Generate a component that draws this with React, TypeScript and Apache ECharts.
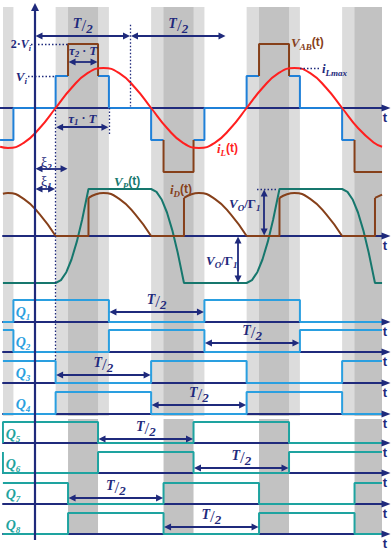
import React, { useEffect, useRef } from "react";
import * as echarts from "echarts";

type Pt = [number, number] | null;

// ===== data: time in switching periods T (t = 0 on the vertical axis) =====
// bridge voltage V_AB (units of V_i): blue part |v| <= V_i, brown part at 2·V_i
const vabBlue: Pt[] = [
  [-0.183, -1], [-0.113, -1], [-0.113, 0], [0.108, 0], [0.108, 1], [0.173, 1], null,
  [0.33, 1], [0.387, 1], [0.387, 0], [0.608, 0], [0.608, -1], [0.673, -1], null,
  [0.83, -1], [0.887, -1], [0.887, 0], [1.108, 0], [1.108, 1], [1.173, 1], null,
  [1.33, 1], [1.387, 1], [1.387, 0], [1.608, 0], [1.608, -1], [1.673, -1],
];
const vabBrown: Pt[] = [
  [0.173, 1], [0.173, 2], [0.33, 2], [0.33, 1], null,
  [0.673, -1], [0.673, -2], [0.83, -2], [0.83, -1], null,
  [1.173, 1], [1.173, 2], [1.33, 2], [1.33, 1], null,
  [1.673, -1], [1.673, -2], [1.817, -2],
];
// inductor current i_L (units of i_Lmax)
const iL: Pt[] = [
  [-0.183, -0.97], [-0.142, -1], [-0.059, -0.87], [0.025, -0.5], [0.108, 0], [0.191, 0.5],
  [0.275, 0.87], [0.358, 1], [0.441, 0.87], [0.525, 0.5], [0.608, 0], [0.691, -0.5],
  [0.775, -0.87], [0.858, -1], [0.941, -0.87], [1.025, -0.5], [1.108, 0], [1.191, 0.5],
  [1.275, 0.87], [1.358, 1], [1.441, 0.87], [1.525, 0.5], [1.608, 0], [1.691, -0.5],
  [1.775, -0.87], [1.817, -0.97],
];
// transformer voltage V_P (units of V_O/Γ1)
const vp: Pt[] = [
  [-0.168, -1], [0.108, -1], [0.136, -0.94], [0.164, -0.77], [0.191, -0.5], [0.219, -0.12], [0.247, 0.35], [0.28, 1],
  [0.608, 1], [0.636, 0.94], [0.664, 0.77], [0.691, 0.5], [0.719, 0.12], [0.747, -0.35], [0.78, -1],
  [1.108, -1], [1.136, -0.94], [1.164, -0.77], [1.191, -0.5], [1.219, -0.12], [1.247, 0.35], [1.28, 1],
  [1.608, 1], [1.636, 0.94], [1.664, 0.77], [1.691, 0.5], [1.719, 0.12], [1.747, -0.35], [1.78, -1],
  [1.817, -1],
];
// diode current i_D (same scale as V_P axis): arcs and the zero / step parts
const iDArcs: Pt[] = [
  [-0.168, 0.9], [-0.142, 0.915], [-0.059, 0.79], [0.025, 0.46], [0.108, 0], null,
  [0.28, 0.81], [0.358, 0.915], [0.441, 0.79], [0.525, 0.46], [0.608, 0], null,
  [0.78, 0.81], [0.858, 0.915], [0.941, 0.79], [1.025, 0.46], [1.108, 0], null,
  [1.28, 0.81], [1.358, 0.915], [1.441, 0.79], [1.525, 0.46], [1.608, 0], null,
  [1.78, 0.81], [1.817, 0.88],
];
const iDSteps: Pt[] = [
  [0.108, 0], [0.28, 0], [0.28, 0.81], null,
  [0.608, 0], [0.78, 0], [0.78, 0.81], null,
  [1.108, 0], [1.28, 0], [1.28, 0.81], null,
  [1.608, 0], [1.78, 0], [1.78, 0.81],
];
// gate signals: [time, state after that time]
const q1: [number, number][] = [[-0.168, 0], [-0.113, 1], [0.387, 0], [0.887, 1], [1.387, 0], [1.817, 0]];
const q2: [number, number][] = [[-0.168, 1], [-0.113, 0], [0.387, 1], [0.887, 0], [1.387, 1], [1.817, 1]];
const q3: [number, number][] = [[-0.168, 1], [0.108, 0], [0.608, 1], [1.108, 0], [1.608, 1], [1.817, 1]];
const q4: [number, number][] = [[-0.168, 0], [0.108, 1], [0.608, 0], [1.108, 1], [1.608, 0], [1.817, 0]];
const q5: [number, number][] = [[-0.168, 0], [-0.168, 1], [0.33, 0], [0.83, 1], [1.33, 0], [1.817, 0]];
const q6: [number, number][] = [[-0.168, 1], [-0.168, 0], [0.33, 1], [0.83, 0], [1.33, 1], [1.817, 1]];
const q7: [number, number][] = [[-0.168, 1], [0.173, 0], [0.673, 1], [1.173, 0], [1.673, 1], [1.817, 1]];
const q8: [number, number][] = [[-0.168, 0], [0.173, 1], [0.673, 0], [1.173, 1], [1.673, 0], [1.817, 0]];
const qStates = [q1, q2, q3, q4, q5, q6, q7, q8];
const qNames = ["1", "2", "3", "4", "5", "6", "7", "8"];
const qHalfSpans: [number, number][] = [
  [0.387, 0.887], [0.887, 1.387], [0.108, 0.608], [0.608, 1.108],
  [0.33, 0.83], [0.83, 1.33], [0.173, 0.673], [0.673, 1.173],
];
const topHalfSpans: [number, number][] = [[0, 0.5], [0.5, 1]];
const tau2Span: [number, number] = [0.173, 0.33];
const tau1Span: [number, number] = [0.108, 0.387];
const xi2Span: [number, number] = [0, 0.173];
const xi1Span: [number, number] = [0, 0.108];
const lightBands: [number, number][] = [[-0.392, -0.113], [0.108, 0.387], [0.608, 0.887], [1.108, 1.387], [1.608, 1.887]];
const darkBands: [number, number][] = [[-0.327, -0.17], [0.173, 0.33], [0.673, 0.83], [1.173, 1.33], [1.673, 1.83]];
const VI_LEVELS = [1, 2];
const ILMAX_IN_VI = 1.25;

// ===== layout & style =====
const SERIF = '"Liberation Serif", "DejaVu Serif", serif';
const SANS = '"Liberation Sans", "DejaVu Sans", sans-serif';
const NAVY = "#1f2a7c";
const VAB_BLUE = "#1f80d8";
const Q_BLUE = "#2a9fe0";
const Q_TEAL = "#1ea3a0";
const VP_TEAL = "#16776d";
const BROWN = "#86401a";
const RED = "#ff1f1f";
const LIGHT_GRAY = "#dcdcdc";
const DARK_GRAY = "#c2c2c2";

const W = 391;
const T0_PX = 35;
const PX_PER_T = 191;
const tAt = (px: number) => (px - T0_PX) / PX_PER_T;
const AXIS_END = 386;
const INSET = 4 / PX_PER_T;

const Q_ROWS = [
  { axisY: 322, h: 22, arrowY: 312, labelY: 312, labelX: 23, color: Q_BLUE },
  { axisY: 352, h: 22, arrowY: 343, labelY: 342, labelX: 23, color: Q_BLUE },
  { axisY: 383, h: 22, arrowY: 375, labelY: 373, labelX: 23, color: Q_BLUE },
  { axisY: 414, h: 22, arrowY: 405, labelY: 404, labelX: 23, color: Q_BLUE },
  { axisY: 443, h: 21, arrowY: 439, labelY: 434, labelX: 13, color: Q_TEAL },
  { axisY: 473, h: 21, arrowY: 468, labelY: 464, labelX: 13, color: Q_TEAL },
  { axisY: 504, h: 21, arrowY: 498, labelY: 494, labelX: 13, color: Q_TEAL },
  { axisY: 534, h: 21, arrowY: 527, labelY: 525, labelX: 13, color: Q_TEAL },
];

const toData = (pts: Pt[]) => pts.map((p) => (p ? p : ["-", "-"]));

const fracRich = {
  T: { fontFamily: SERIF, fontStyle: "italic", fontWeight: "bold", fontSize: 14, color: NAVY, lineHeight: 14, verticalAlign: "top" },
  sl: { fontFamily: SERIF, fontSize: 17, color: NAVY, lineHeight: 19 },
  two: { fontFamily: SERIF, fontStyle: "italic", fontWeight: "bold", fontSize: 13, color: NAVY, lineHeight: 13, verticalAlign: "bottom" },
};
const fracLabel = { show: true, position: "insideMiddleTop", distance: 1, formatter: "{T|T}{sl|/}{two|2}", rich: fracRich };
const tauRich = {
  g: { fontFamily: SERIF, fontStyle: "italic", fontWeight: "bold", fontSize: 13, color: NAVY, lineHeight: 16 },
  s: { fontFamily: SERIF, fontStyle: "italic", fontWeight: "bold", fontSize: 9, color: NAVY, lineHeight: 9, verticalAlign: "bottom" },
  n: { fontFamily: SERIF, fontWeight: "bold", fontSize: 12, color: NAVY, lineHeight: 16 },
};
const tauLabel = (n: string, dist: number) => ({
  show: true, position: "insideMiddleTop", distance: dist, formatter: `{g|τ}{s|${n}}{n| · }{g|T}`, rich: tauRich,
});

const richG = (color: string, size: number) => {
  const sub = Math.round(size * 0.66);
  return {
    v: { fontFamily: SERIF, fontStyle: "italic", fontWeight: "bold", fontSize: size, lineHeight: size + 5, fill: color },
    s: { fontFamily: SERIF, fontStyle: "italic", fontWeight: "bold", fontSize: sub, lineHeight: sub, verticalAlign: "bottom", fill: color },
    u: { fontFamily: SERIF, fontWeight: "bold", fontSize: size, lineHeight: size + 5, fill: color },
    r: { fontFamily: SANS, fontWeight: "bold", fontSize: size - 1, lineHeight: size + 5, fill: color },
    g: { fontFamily: SERIF, fontSize: size, lineHeight: size + 5, fill: color },
  };
};
const lab = (x: number, y: number, text: string, color: string, size: number, align = "left") => ({
  type: "text", x, y, z: 20, silent: true,
  style: { text, rich: richG(color, size), align, verticalAlign: "middle", fill: color, fontSize: size },
});

function buildOption() {
  const grid: any[] = [];
  const xAxis: any[] = [];
  const yAxis: any[] = [];
  const series: any[] = [];

  const tAxis = (z: number) => ({
    show: true, z,
    axisLine: { show: true, onZero: true, symbol: ["none", "triangle"], symbolSize: [7, 9], lineStyle: { color: NAVY, width: 2 } },
    axisTick: { show: false }, axisLabel: { show: false }, splitLine: { show: false },
    name: "t", nameLocation: "end", nameGap: -1,
    nameTextStyle: { color: NAVY, fontFamily: SANS, fontWeight: "bold", fontSize: 13, align: "center", verticalAlign: "top", padding: [3, 0, 0, 0] },
  });
  const addGrid = (left: number, right: number, top: number, height: number, xOpts: any) => {
    grid.push({ left, top, height, width: right - left });
    const gi = grid.length - 1;
    xAxis.push({ type: "value", gridIndex: gi, min: tAt(left), max: tAt(right), ...xOpts });
    return gi;
  };
  const addY = (gi: number, min: number, max: number, inverse = false) => {
    yAxis.push({ type: "value", gridIndex: gi, min, max, inverse, show: false });
    return yAxis.length - 1;
  };
  const line = (xi: number, yi: number, pts: any[], color: string, width: number, extra: any = {}) => ({
    type: "line", xAxisIndex: xi, yAxisIndex: yi, data: pts, symbol: "none", showSymbol: false,
    clip: false, silent: true, connectNulls: false, lineStyle: { color, width }, itemStyle: { color },
    emphasis: { disabled: true }, ...extra,
  });
  const marks = (xi: number, yi: number, data: any[], symbol: string[], lineStyle: any, z = 6, symbolSize = 7) => ({
    type: "line", xAxisIndex: xi, yAxisIndex: yi, data: [], silent: true,
    markLine: { silent: true, symbol, symbolSize, z, label: { show: false }, lineStyle, emphasis: { disabled: true }, data },
  });
  const arrowStyle = { color: NAVY, width: 1.8, type: "solid" };
  const dotStyle = { color: NAVY, width: 1.3, type: [1.5, 2] };
  const hArrow = (a: number, b: number, y: number, label?: any) => [
    { coord: [a + INSET, y], ...(label ? { label } : {}) }, { coord: [b - INSET, y] },
  ];

  // frame grid (pixel-valued y) for bands, vertical axis, long guide line
  const gF = addGrid(0, W, 0, 550, { show: false });
  const yF = addY(gF, 0, 550, true);
  const bandL = tAt(3), bandR = tAt(382);
  const clamp = (bands: [number, number][]) =>
    bands.map(([a, b]) => [Math.max(a, bandL), Math.min(b, bandR)]).filter(([a, b]) => b > a);
  series.push({
    type: "line", xAxisIndex: gF, yAxisIndex: yF, data: [], silent: true,
    markArea: { silent: true, z: -3, label: { show: false }, itemStyle: { color: LIGHT_GRAY },
      data: clamp(lightBands).map(([a, b]) => [{ coord: [a, 7] }, { coord: [b, 416] }]) },
  });
  series.push({
    type: "line", xAxisIndex: gF, yAxisIndex: yF, data: [], silent: true,
    markArea: { silent: true, z: -2, label: { show: false }, itemStyle: { color: DARK_GRAY },
      data: [
        ...clamp(darkBands).map(([a, b]) => [{ coord: [a, 7] }, { coord: [b, 416] }]),
        ...clamp(darkBands).map(([a, b]) => [{ coord: [a, 419] }, { coord: [b, 535] }]),
      ] },
  });
  series.push(marks(gF, yF, [[{ coord: [0, 540] }, { coord: [0, 7] }]], ["none", "triangle"], { color: NAVY, width: 2.2, type: "solid" }, 7, 8));
  series.push(marks(gF, yF, [[{ coord: [tau1Span[0], 110] }, { coord: [tau1Span[0], 361] }]], ["none", "none"], dotStyle));

  // G0: V_AB and i_L
  const g0 = addGrid(0, AXIS_END, 12, 192, tAxis(1));
  const yVi = addY(g0, -3, 3);
  const yIL = addY(g0, -2.4, 2.4);
  series.push(line(g0, yVi, toData(vabBlue), VAB_BLUE, 2));
  series.push(line(g0, yVi, toData(vabBrown), BROWN, 2));
  series.push(line(g0, yIL, toData(iL), RED, 2, { smooth: true }));
  series.push(marks(g0, yVi, [
    ...topHalfSpans.map(([a, b]) => hArrow(a, b, 2.25, fracLabel)),
    hArrow(tau2Span[0], tau2Span[1], 1.44, tauLabel("2", 3)),
    hArrow(tau1Span[0], tau1Span[1], -0.6, tauLabel("1", 1)),
  ], ["triangle", "triangle"], arrowStyle));
  series.push(marks(g0, yVi, [
    [{ coord: [0.5, 2.6] }, { coord: [0.5, 0.05] }],
    [{ coord: [tau1Span[1], 0] }, { coord: [tau1Span[1], -0.85] }],
    [{ coord: [tAt(31), VI_LEVELS[1]] }, { coord: [tau2Span[0], VI_LEVELS[1]] }],
    [{ coord: [tAt(28), VI_LEVELS[0]] }, { coord: [tau1Span[0], VI_LEVELS[0]] }],
    [{ coord: [tAt(300), ILMAX_IN_VI] }, { coord: [tAt(320), ILMAX_IN_VI] }],
  ], ["none", "none"], dotStyle));

  // G1: V_P and i_D
  const g1 = addGrid(3, AXIS_END, 142, 188, tAxis(1));
  const yVp = addY(g1, -2, 2);
  series.push(line(g1, yVp, toData(vp), VP_TEAL, 2));
  series.push(line(g1, yVp, toData(iDSteps), BROWN, 2));
  series.push(line(g1, yVp, toData(iDArcs), BROWN, 2, { smooth: true }));
  const vIn = 4 / 47;
  series.push(marks(g1, yVp, [
    hArrow(xi2Span[0], xi2Span[1], 1.43),
    hArrow(xi1Span[0], xi1Span[1], 1.0),
    [{ coord: [1.2, vIn] }, { coord: [1.2, 1 - vIn] }],
    [{ coord: [1.063, -vIn] }, { coord: [1.063, -1 + vIn] }],
  ], ["triangle", "triangle"], arrowStyle));
  series.push(marks(g1, yVp, [[{ coord: [tAt(257), 1] }, { coord: [tAt(276), 1] }]], ["none", "none"], dotStyle));

  // Q rows
  Q_ROWS.forEach((r, i) => {
    const g = addGrid(3, AXIS_END, r.axisY - r.h, r.h, tAxis(3));
    const y = addY(g, 0, 1);
    series.push(line(g, y, qStates[i], r.color, 2, { step: "end" }));
    const lvl = (r.axisY - r.arrowY) / r.h;
    series.push(marks(g, y, [hArrow(qHalfSpans[i][0], qHalfSpans[i][1], lvl, fracLabel)], ["triangle", "triangle"], arrowStyle));
  });

  const graphic: any[] = [
    lab(31, 44, "{u|2·}{v|V}{s|i}", NAVY, 12, "right"),
    lab(27, 76, "{v|V}{s|i}", NAVY, 13, "right"),
    lab(291, 42, "{v|V}{s|AB}{r|(t)}", BROWN, 13),
    lab(322, 68, "{v|i}{s|Lmax}", NAVY, 13),
    lab(217, 148, "{v|i}{s|L}{r|(t)}", RED, 13),
    lab(41, 162, "{g|ξ}{s|2}", NAVY, 14),
    lab(41, 181, "{g|ξ}{s|1}", NAVY, 14),
    lab(114, 181, "{v|V}{s|P}{r|(t)}", VP_TEAL, 13),
    lab(170, 189, "{v|i}{s|D}{r|(t)}", BROWN, 13),
    lab(229, 203, "{v|V}{s|O}{u|/Γ}{s|1}", NAVY, 13),
    lab(206, 260, "{v|V}{s|O}{u|/Γ}{s|1}", NAVY, 13),
    ...Q_ROWS.map((r, i) => lab(r.labelX, r.labelY, `{v|Q}{s|${qNames[i]}}`, r.color, 14, "center")),
  ];

  return { animation: false, grid, xAxis, yAxis, series, graphic };
}

export default function App() {
  const ref = useRef<HTMLDivElement>(null);
  useEffect(() => {
    document.body.style.margin = "0";
    if (!ref.current) return;
    const chart = echarts.init(ref.current, undefined, { renderer: "svg" });
    chart.setOption(buildOption() as any);
    return () => chart.dispose();
  }, []);
  return <div ref={ref} style={{ width: 391, height: 550, position: "absolute", left: 0, top: 0, background: "#fff" }} />;
}
